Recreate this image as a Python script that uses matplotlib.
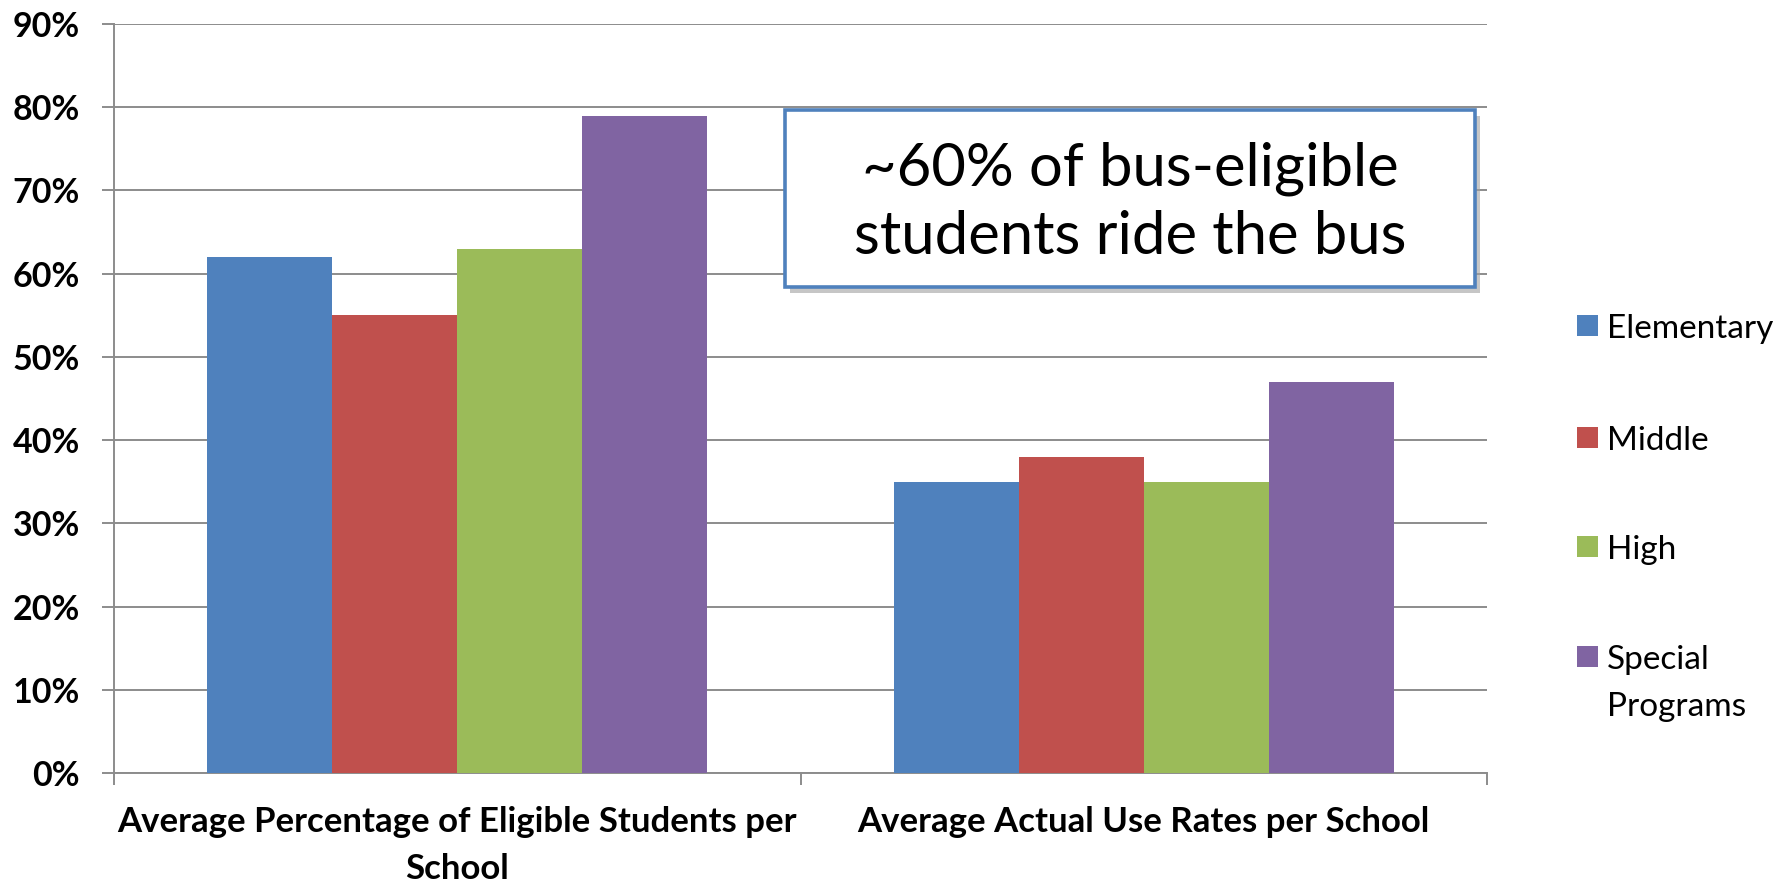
import numpy as np
import matplotlib
matplotlib.use("Agg")
import matplotlib.pyplot as plt
from matplotlib.patches import Rectangle

# data
categories = ["Average Percentage of Eligible Students per\nSchool",
              "Average Actual Use Rates per School"]
series = ["Elementary", "Middle", "High", "Special\nPrograms"]
elementary = [62, 35]
middle = [55, 38]
high = [63, 35]
special = [79, 47]
values = [elementary, middle, high, special]
colors = ["#4F81BD", "#C0504D", "#9BBB59", "#8064A2"]
yticks = list(range(0, 91, 10))
note = "~60% of bus-eligible\nstudents ride the bus"

plt.rcParams['font.family'] = ['Lato', 'DejaVu Sans']
grey = "#8C8C8C"

fig = plt.figure(figsize=(17.83, 8.83), dpi=100)
ax = fig.add_axes([114/1783, 1-773/883, (1487-114)/1783, (773-24)/883])

x = np.arange(len(categories))
w = 0.182
for i, (vals, c) in enumerate(zip(values, colors)):
    ax.bar(x + (i - 1.5) * w, vals, w, color=c, edgecolor="none", zorder=3)

ax.set_xlim(-0.5, 1.5)
ax.set_ylim(0, 90)
ax.set_yticks(yticks)
ax.set_yticklabels([f"{t}%" for t in yticks], fontsize=24.5, fontweight="bold")
ax.yaxis.grid(True, color=grey, linewidth=1.4, zorder=0)
ax.set_axisbelow(True)

ax.set_xticks(x)
ax.set_xticklabels(categories, fontsize=25, fontweight="bold", linespacing=1.55)
ax.set_xticks([-0.5, 0.5, 1.5], minor=True)
ax.tick_params(axis="x", which="major", length=0, pad=24)
ax.tick_params(axis="x", which="minor", length=12/1.39, width=1.4, color=grey)
ax.tick_params(axis="y", length=12/1.39, width=1.4, color=grey, pad=16)

for s in ["top", "right"]:
    ax.spines[s].set_visible(False)
for s in ["left", "bottom"]:
    ax.spines[s].set_color(grey)
    ax.spines[s].set_linewidth(1.4)

# callout box
bx0, by0, bw, bh = 785/1783, 1-287/883, 690/1783, 177/883
fig.patches.append(Rectangle((bx0 + 0.003, by0 - 0.007), bw, bh, transform=fig.transFigure,
                             facecolor="#A0A0A0", edgecolor="none", alpha=0.6, zorder=5))
fig.patches.append(Rectangle((bx0, by0), bw, bh, transform=fig.transFigure,
                             facecolor="white", edgecolor="#4F81BD", linewidth=2.6, zorder=6))
fig.text(bx0 + bw/2, 1-203/883, note, ha="center", va="center", fontsize=43,
         linespacing=1.32, zorder=7)

# legend drawn by hand
ly = [326, 438, 547, 657]
for name, c, yy in zip(series, colors, ly):
    fig.patches.append(Rectangle((1577/1783, 1-(yy+10)/883), 21/1783, 21/883,
                                 transform=fig.transFigure, facecolor=c, edgecolor="none"))
    for k, line in enumerate(name.split("\n")):
        fig.text(1607/1783, 1-(yy+12+k*47)/883, line,
                 ha="left", va="baseline", fontsize=24)

fig.savefig("out.png", dpi=100)
